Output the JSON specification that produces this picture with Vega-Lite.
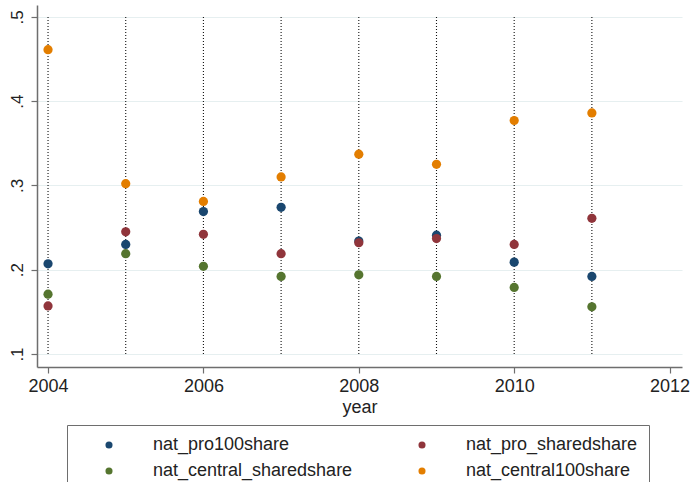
{
  "$schema": "https://vega.github.io/schema/vega-lite/v6.json",
  "autosize": {"type": "none"},
  "width": 645,
  "height": 362,
  "padding": {"left": 37, "top": 5, "right": 10, "bottom": 115},
  "background": "white",
  "config": {
    "view": {"stroke": null},
    "font": "Liberation Sans",
    "axis": {
      "domainColor": "#6e6e6e",
      "domainWidth": 1.5,
      "tickColor": "#6e6e6e",
      "tickWidth": 1.2,
      "tickSize": 6,
      "labelColor": "#222222",
      "titleColor": "#222222",
      "labelFont": "Liberation Sans",
      "titleFont": "Liberation Sans",
      "titleFontWeight": "normal"
    }
  },
  "datasets": {
    "shares": [
      {"year": 2004, "series": "nat_pro100share", "value": 0.207},
      {"year": 2005, "series": "nat_pro100share", "value": 0.230},
      {"year": 2006, "series": "nat_pro100share", "value": 0.269},
      {"year": 2007, "series": "nat_pro100share", "value": 0.274},
      {"year": 2008, "series": "nat_pro100share", "value": 0.234},
      {"year": 2009, "series": "nat_pro100share", "value": 0.241},
      {"year": 2010, "series": "nat_pro100share", "value": 0.209},
      {"year": 2011, "series": "nat_pro100share", "value": 0.192},
      {"year": 2004, "series": "nat_pro_sharedshare", "value": 0.157},
      {"year": 2005, "series": "nat_pro_sharedshare", "value": 0.245},
      {"year": 2006, "series": "nat_pro_sharedshare", "value": 0.242},
      {"year": 2007, "series": "nat_pro_sharedshare", "value": 0.219},
      {"year": 2008, "series": "nat_pro_sharedshare", "value": 0.232},
      {"year": 2009, "series": "nat_pro_sharedshare", "value": 0.237},
      {"year": 2010, "series": "nat_pro_sharedshare", "value": 0.230},
      {"year": 2011, "series": "nat_pro_sharedshare", "value": 0.261},
      {"year": 2004, "series": "nat_central_sharedshare", "value": 0.171},
      {"year": 2005, "series": "nat_central_sharedshare", "value": 0.219},
      {"year": 2006, "series": "nat_central_sharedshare", "value": 0.204},
      {"year": 2007, "series": "nat_central_sharedshare", "value": 0.192},
      {"year": 2008, "series": "nat_central_sharedshare", "value": 0.194},
      {"year": 2009, "series": "nat_central_sharedshare", "value": 0.192},
      {"year": 2010, "series": "nat_central_sharedshare", "value": 0.179},
      {"year": 2011, "series": "nat_central_sharedshare", "value": 0.156},
      {"year": 2004, "series": "nat_central100share", "value": 0.461},
      {"year": 2005, "series": "nat_central100share", "value": 0.302},
      {"year": 2006, "series": "nat_central100share", "value": 0.281},
      {"year": 2007, "series": "nat_central100share", "value": 0.310},
      {"year": 2008, "series": "nat_central100share", "value": 0.337},
      {"year": 2009, "series": "nat_central100share", "value": 0.325},
      {"year": 2010, "series": "nat_central100share", "value": 0.377},
      {"year": 2011, "series": "nat_central100share", "value": 0.386}
    ],
    "years": [
      {"year": 2004}, {"year": 2005}, {"year": 2006}, {"year": 2007},
      {"year": 2008}, {"year": 2009}, {"year": 2010}, {"year": 2011}
    ]
  },
  "layer": [
    {
      "data": {"name": "years"},
      "mark": {"type": "rule", "color": "#111111", "strokeWidth": 1.1, "strokeDash": [1, 2]},
      "encoding": {
        "x": {"field": "year", "type": "quantitative"},
        "y": {"datum": 0.1, "type": "quantitative"},
        "y2": {"datum": 0.5}
      }
    },
    {
      "data": {"name": "shares"},
      "mark": {"type": "point", "filled": true, "opacity": 1, "size": 85},
      "encoding": {
        "x": {
          "field": "year",
          "type": "quantitative",
          "scale": {"domain": [2003.858, 2012.16], "nice": false, "zero": false},
          "axis": {
            "values": [2004, 2006, 2008, 2010, 2012],
            "format": "d",
            "grid": false,
            "labelFontSize": 18,
            "labelPadding": 4,
            "title": "year",
            "titleFontSize": 18,
            "titlePadding": 3
          }
        },
        "y": {
          "field": "value",
          "type": "quantitative",
          "scale": {"domain": [0.0846, 0.514], "nice": false, "zero": false},
          "axis": {
            "values": [0.1, 0.2, 0.3, 0.4, 0.5],
            "labelExpr": "replace(format(datum.value, '.1f'), '0.', '.')",
            "labelAngle": 270,
            "labelAlign": "center",
            "labelBaseline": "bottom",
            "labelFontSize": 17,
            "labelPadding": 5,
            "grid": true,
            "gridColor": "#e6eff0",
            "gridWidth": 1.2,
            "title": null
          }
        },
        "color": {
          "field": "series",
          "type": "nominal",
          "scale": {
            "domain": ["nat_pro100share", "nat_central_sharedshare", "nat_pro_sharedshare", "nat_central100share"],
            "range": ["#1a476f", "#55752f", "#90353b", "#e37e00"]
          },
          "legend": {
            "title": null,
            "orient": "none",
            "legendX": 30,
            "legendY": 420,
            "columns": 2,
            "columnPadding": 38,
            "rowPadding": 8,
            "padding": 11,
            "strokeColor": "#6e6e6e",
            "fillColor": "white",
            "symbolType": "circle",
            "symbolSize": 50,
            "symbolOffset": 22,
            "labelOffset": 35,
            "labelFontSize": 18,
            "labelColor": "#222222",
            "labelLimit": 400
          }
        }
      }
    }
  ]
}
